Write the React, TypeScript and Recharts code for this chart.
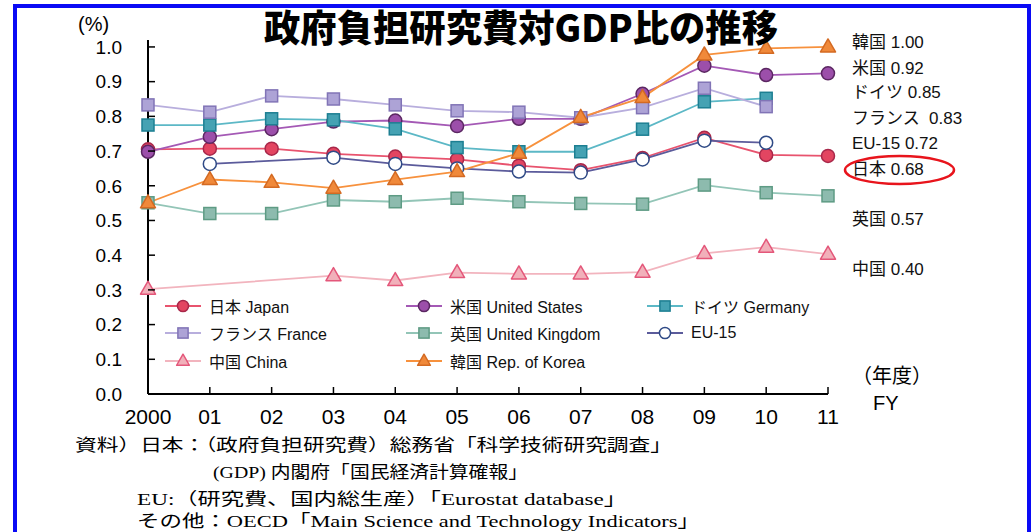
import React from 'react';
import { LineChart, Line, XAxis, YAxis } from 'recharts';

// fiscal years and axis ticks
const years = [2000, 2001, 2002, 2003, 2004, 2005, 2006, 2007, 2008, 2009, 2010, 2011];
const yTicks = [0, 0.1, 0.2, 0.3, 0.4, 0.5, 0.6, 0.7, 0.8, 0.9, 1.0];

// government-funded R&D as % of GDP
const japan = [0.705, 0.707, 0.707, 0.692, 0.684, 0.676, 0.658, 0.645, 0.68, 0.738, 0.689, 0.686];
const us = [0.698, 0.741, 0.763, 0.785, 0.788, 0.772, 0.793, 0.793, 0.865, 0.946, 0.919, 0.924];
const germany = [0.775, 0.775, 0.793, 0.79, 0.764, 0.71, 0.698, 0.698, 0.763, 0.842, 0.852, null];
const france = [0.833, 0.812, 0.859, 0.85, 0.833, 0.816, 0.812, 0.796, 0.825, 0.881, 0.828, null];
const uk = [0.551, 0.52, 0.52, 0.559, 0.554, 0.564, 0.554, 0.549, 0.547, 0.602, 0.58, 0.571];
const eu15 = [null, 0.663, null, 0.681, 0.663, 0.65, 0.641, 0.638, 0.676, 0.73, 0.724, null];
const china = [0.302, null, null, 0.341, 0.327, 0.35, 0.346, 0.346, 0.351, 0.405, 0.423, 0.403];
const korea = [0.551, 0.618, 0.61, 0.593, 0.618, 0.641, 0.694, 0.797, 0.854, 0.977, 0.996, 1.0];

// latest-year labels on the right
const endLabels = ['韓国 1.00', '米国 0.92', 'ドイツ 0.85', 'フランス  0.83', 'EU-15 0.72', '日本 0.68', '英国 0.57', '中国 0.40'];
const endLabelY = [42, 68, 92, 118, 143, 169, 219, 269];

const notes = [
  '資料）日本：（政府負担研究費）総務省「科学技術研究調査」',
  '(GDP) 内閣府「国民経済計算確報」',
  'EU:（研究費、国内総生産）「Eurostat database」',
  'その他：OECD「Main Science and Technology Indicators」',
];

type Shape = 'circle' | 'square' | 'triangle';

interface Series {
  key: string;
  name: string;
  values: (number | null)[];
  line: string;
  fill: string;
  stroke: string;
  shape: Shape;
  connect?: boolean;
}

// drawing order (back to front)
const series: Series[] = [
  { key: 'china', name: '中国 China', values: china, line: '#F2B4BE', fill: '#F1B0BA', stroke: '#E4577A', shape: 'triangle', connect: true },
  { key: 'uk', name: '英国 United Kingdom', values: uk, line: '#93C5B7', fill: '#8DBBAE', stroke: '#5E9B84', shape: 'square' },
  { key: 'japan', name: '日本 Japan', values: japan, line: '#E8536E', fill: '#E34561', stroke: '#A8284A', shape: 'circle' },
  { key: 'us', name: '米国 United States', values: us, line: '#A459B5', fill: '#9C4FAA', stroke: '#5B2762', shape: 'circle' },
  { key: 'germany', name: 'ドイツ Germany', values: germany, line: '#5CB8C6', fill: '#45A2B3', stroke: '#1D7F92', shape: 'square' },
  { key: 'france', name: 'フランス France', values: france, line: '#B8AEDD', fill: '#ADA3D6', stroke: '#8174B6', shape: 'square' },
  { key: 'eu15', name: 'EU-15', values: eu15, line: '#5B5B9B', fill: '#FFFFFF', stroke: '#2F4A86', shape: 'circle', connect: true },
  { key: 'korea', name: '韓国 Rep. of Korea', values: korea, line: '#F7913D', fill: '#F0893A', stroke: '#D46A22', shape: 'triangle' },
];

const legendOrder = ['japan', 'us', 'germany', 'france', 'uk', 'eu15', 'china', 'korea'];

const data = years.map((year, i) => {
  const row: Record<string, number | null> = { year };
  series.forEach((s) => {
    row[s.key] = s.values[i];
  });
  return row;
});

const sansFont = "'Liberation Sans', Arial, 'Noto Sans CJK JP', sans-serif";
const serifFont = "'Liberation Serif', 'Noto Sans CJK JP', serif";

const Marker = ({ shape, cx, cy, fill, stroke, k = 1 }: { shape: Shape; cx: number; cy: number; fill: string; stroke: string; k?: number }) => {
  if (shape === 'circle') {
    return <circle cx={cx} cy={cy} r={6.5 * k} fill={fill} stroke={stroke} strokeWidth={1.5} />;
  }
  if (shape === 'square') {
    return <rect x={cx - 6 * k} y={cy - 6 * k} width={12 * k} height={12 * k} fill={fill} stroke={stroke} strokeWidth={1.5} />;
  }
  return (
    <polygon
      points={`${cx},${cy - 8 * k} ${cx - 7.5 * k},${cy + 5 * k} ${cx + 7.5 * k},${cy + 5 * k}`}
      fill={fill}
      stroke={stroke}
      strokeWidth={1.5}
      strokeLinejoin="round"
    />
  );
};

const makeDot = (s: Series) => (props: any) => {
  const { cx, cy, index, value } = props;
  if (value == null || cx == null || cy == null) return <g key={`${s.key}-${index}`} />;
  return (
    <g key={`${s.key}-${index}`}>
      <Marker shape={s.shape} cx={cx} cy={cy} fill={s.fill} stroke={s.stroke} />
    </g>
  );
};

const YTick = (props: any) => {
  const { x, y, payload } = props;
  return (
    <g>
      <line x1={x} x2={x + 7} y1={y} y2={y} stroke="#000" strokeWidth={1.5} />
      <text x={x - 26} y={y} dy="0.36em" textAnchor="end" fontSize={19} fontFamily={sansFont} fill="#000">
        {Number(payload.value).toFixed(1)}
      </text>
    </g>
  );
};

const XTick = (props: any) => {
  const { x, y, payload } = props;
  const v = Number(payload.value);
  const label = v === 2000 ? '2000' : String(v - 2000).padStart(2, '0');
  return (
    <g>
      <line x1={x} x2={x} y1={y} y2={y - 7} stroke="#000" strokeWidth={1.5} />
      <text
        x={x}
        y={y + 22}
        dy="0.36em"
        textAnchor="middle"
        fontSize={21}
        fontFamily="'Liberation Sans Narrow', 'Arial Narrow', 'Liberation Sans', sans-serif"
        fill="#000"
      >
        {label}
      </text>
    </g>
  );
};

const LegendBox = () => (
  <div
    style={{
      position: 'absolute',
      left: 165,
      top: 292,
      display: 'grid',
      gridTemplateColumns: '241px 241px 200px',
      gridAutoRows: '27.5px',
      fontFamily: sansFont,
      fontSize: 16,
      color: '#111',
    }}
  >
    {legendOrder.map((k) => {
      const s = series.find((d) => d.key === k)!;
      return (
        <div key={k} style={{ display: 'flex', alignItems: 'center' }}>
          <svg width={36} height={18} style={{ marginRight: 8 }}>
            <line x1={0} x2={36} y1={9} y2={9} stroke={s.line} strokeWidth={2} />
            <Marker shape={s.shape} cx={18} cy={9} fill={s.fill} stroke={s.stroke} k={0.85} />
          </svg>
          <span>{s.name}</span>
        </div>
      );
    })}
  </div>
);

export default function App() {
  return (
    <div style={{ position: 'absolute', left: 0, top: 0, width: 1035, height: 532, background: '#fff', overflow: 'hidden' }}>
      <div
        style={{
          position: 'absolute',
          left: 13,
          top: 4,
          width: 1018,
          height: 560,
          boxSizing: 'border-box',
          border: '4px solid #0A0AF5',
          borderBottom: 'none',
        }}
      />
      <LineChart width={1035} height={532} data={data} margin={{ top: 40, right: 207, bottom: 108, left: 88 }}>
        <XAxis
          dataKey="year"
          type="number"
          domain={[2000, 2011]}
          ticks={years}
          interval={0}
          height={30}
          axisLine={{ stroke: '#000', strokeWidth: 2 }}
          tickLine={false}
          tickSize={0}
          tickMargin={0}
          tick={<XTick />}
        />
        <YAxis
          type="number"
          domain={[0, 1.02]}
          ticks={yTicks}
          interval={0}
          width={60}
          axisLine={{ stroke: '#000', strokeWidth: 2 }}
          tickLine={false}
          tickSize={0}
          tickMargin={0}
          tick={<YTick />}
        />
        {series.map((s) => (
          <Line
            key={s.key}
            dataKey={s.key}
            name={s.name}
            stroke={s.line}
            strokeWidth={1.8}
            dot={makeDot(s)}
            activeDot={false}
            connectNulls={!!s.connect}
            isAnimationActive={false}
          />
        ))}
      </LineChart>
      <LegendBox />
      <svg width={1035} height={532} style={{ position: 'absolute', left: 0, top: 0, pointerEvents: 'none' }}>
        <text
          x={264}
          y={42}
          fontSize={37}
          fontWeight={900}
          fontFamily="'Noto Sans CJK JP', sans-serif"
          textLength={514}
          lengthAdjust="spacingAndGlyphs"
          fill="#000"
        >
          政府負担研究費対GDP比の推移
        </text>
        <text x={78} y={31} fontSize={20} fontFamily={sansFont} fill="#000">
          (%)
        </text>
        {endLabels.map((t, i) => (
          <text key={t} x={852} y={endLabelY[i] + 6} fontSize={17} fontFamily={sansFont} fill="#111" style={{ whiteSpace: 'pre' }}>
            {t}
          </text>
        ))}
        <ellipse cx={899.5} cy={170} rx={54.5} ry={14} fill="none" stroke="#E8141C" strokeWidth={2.5} />
        <text x={852} y={383} fontSize={20} fontFamily={sansFont} fill="#000">
          （年度）
        </text>
        <text x={873} y={410} fontSize={20} fontFamily={sansFont} fill="#000">
          FY
        </text>
        <text x={75} y={451} fontSize={17} fontFamily={serifFont} textLength={597} lengthAdjust="spacingAndGlyphs" fill="#000">
          {notes[0]}
        </text>
        <text x={213} y={478} fontSize={17} fontFamily={serifFont} textLength={315} lengthAdjust="spacingAndGlyphs" fill="#000">
          {notes[1]}
        </text>
        <text x={137} y={505} fontSize={17} fontFamily={serifFont} textLength={490} lengthAdjust="spacingAndGlyphs" fill="#000">
          {notes[2]}
        </text>
        <text x={137} y={527} fontSize={17} fontFamily={serifFont} textLength={563} lengthAdjust="spacingAndGlyphs" fill="#000">
          {notes[3]}
        </text>
      </svg>
    </div>
  );
}
